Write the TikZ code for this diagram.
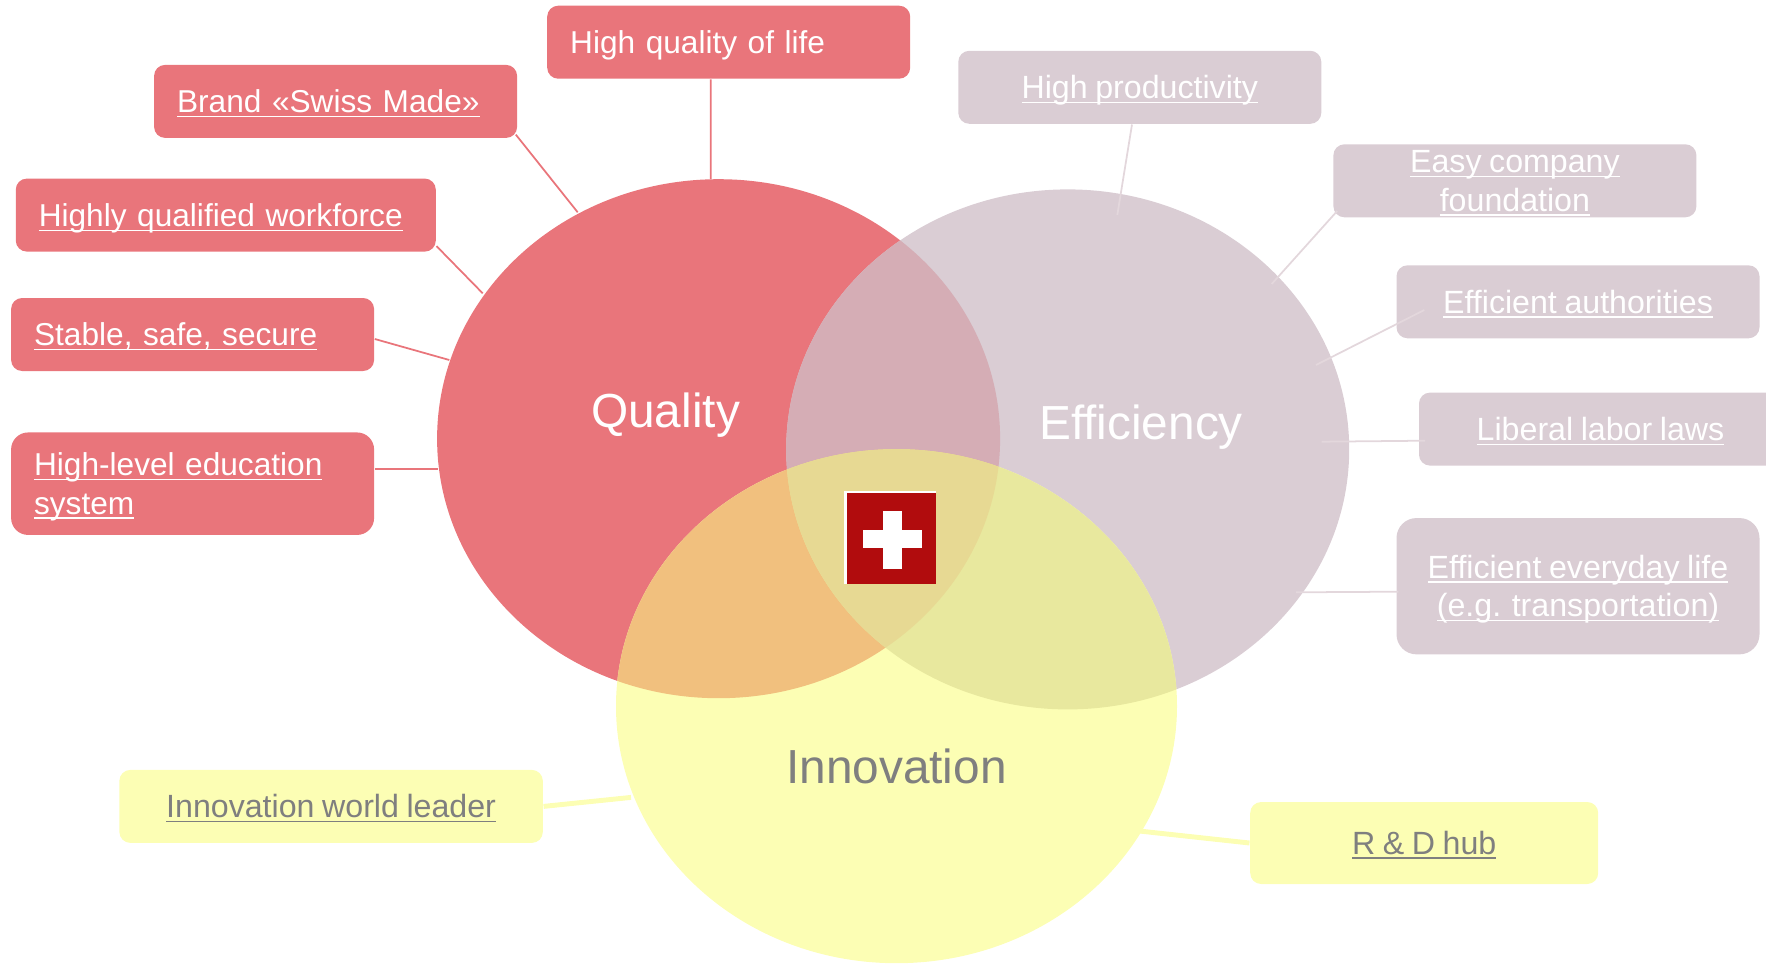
\documentclass[tikz,border=0pt]{standalone}
\usepackage{fontspec}
\setmainfont[WordSpace=0.85]{Liberation Sans}
\usepackage{tikz}
\usetikzlibrary{shapes.geometric}
\definecolor{qualcol}{HTML}{E9757B}
\definecolor{efficol}{HTML}{DACDD4}
\definecolor{innocol}{HTML}{FCFEB4}
\definecolor{qecol}{HTML}{D5ADB5}
\definecolor{qicol}{HTML}{F1C07E}
\definecolor{eicol}{HTML}{E8E89E}
\definecolor{qeicol}{HTML}{E7D993}
\definecolor{flagcol}{HTML}{B10C0D}
\definecolor{greytext}{HTML}{7F7F7F}
\definecolor{elinecol}{HTML}{E3D7DC}
\newcommand{\lnk}[1]{\setbox0\hbox{#1}\smash{\rlap{\rule[-1.3pt]{\wd0}{0.4pt}}\box0}}
\newcommand{\tagstrut}{\rule[-1.5pt]{0pt}{9.4pt}}
\tikzset{
  bigset/.style={ellipse,inner sep=0pt,minimum width=#1},
  biglabel/.style={font=\fontsize{13.6}{16}\selectfont,inner sep=0pt},
  tagbox/.style={rectangle,rounded corners=1.1mm,inner ysep=0pt,inner xsep=0pt,minimum height=.73cm,
    font=\fontsize{9.15}{10.9}\selectfont,text=white},
  leftbox/.style={tagbox,align=left,text width=#1,inner xsep=.23cm,font=\fontsize{9}{10.9}\selectfont},
  midbox/.style={tagbox,align=center,minimum width=3.63cm},
  qbox/.style={fill=qualcol},
  ebox/.style={fill=efficol},
  ibox/.style={fill=innocol,text=greytext},
  qline/.style={draw=qualcol,line width=.5pt},
  eline/.style={draw=elinecol,line width=.5pt},
  iline/.style={draw=innocol,line width=1.4pt},
  flagpart/.style={rectangle,inner sep=0pt}
}
\begin{document}
\begin{tikzpicture}
      \useasboundingbox (0,0) rectangle (17.66,9.63);
      \node[bigset=5.63cm,minimum height=5.19cm,fill=qualcol] (quality) at (7.186,5.243) {};
      \node[bigset=5.63cm,minimum height=5.20cm,fill=efficol] (efficiency) at (10.677,5.136) {};
      \node[bigset=5.61cm,minimum height=5.14cm,fill=innocol] (innovation) at (8.965,2.568) {};
      \begin{scope}
        \clip (quality.center) ellipse (2.815 and 2.595);
        \fill[qecol] (efficiency.center) ellipse (2.815 and 2.6);
        \fill[qicol] (innovation.center) ellipse (2.805 and 2.57);
      \end{scope}
      \begin{scope}
        \clip (efficiency.center) ellipse (2.815 and 2.6);
        \fill[eicol] (innovation.center) ellipse (2.805 and 2.57);
        \clip (quality.center) ellipse (2.815 and 2.595);
        \fill[qeicol] (innovation.center) ellipse (2.805 and 2.57);
      \end{scope}
      \node[biglabel,text=white] (qlabel) at (6.656,5.474) {Quality};
      \node[biglabel,text=white] (elabel) at (11.41,5.361) {Efficiency};
      \node[biglabel,text=greytext] (ilabel) at (8.965,1.97) {Innovation};

      \node[flagpart,fill=white,minimum width=.92cm,minimum height=.93cm] (flag) at (8.90,4.255) {};
      \node[flagpart,fill=flagcol,minimum width=.894cm,minimum height=.905cm] (flagred) at (8.913,4.243) {};
      \node[flagpart,fill=white,minimum width=.59cm,minimum height=.183cm] (hbar) at (8.928,4.238) {};
      \node[flagpart,fill=white,minimum width=.19cm,minimum height=.583cm] (vbar) at (8.928,4.232) {};

      \node[leftbox=3.17cm,qbox] (brand) at (3.356,8.616) {\tagstrut\lnk{Brand «Swiss Made»}};
      \node[leftbox=3.17cm,qbox] (life) at (7.287,9.208) {\tagstrut\smash{High quality of life}};
      \node[leftbox=3.74cm,qbox] (workforce) at (2.258,7.479) {\tagstrut\lnk{Highly qualified workforce}};
      \node[leftbox=3.17cm,qbox] (secure) at (1.926,6.285) {\tagstrut\lnk{Stable, safe, secure}};
      \node[leftbox=3.17cm,qbox,minimum height=1.025cm,rounded corners=1.7mm] (education) at (1.926,4.793) {\tagstrut\lnk{High-level education}\\\tagstrut\lnk{system}};

      \node[midbox,ebox] (productivity) at (11.398,8.757) {\tagstrut\lnk{High productivity}};
      \node[midbox,ebox] (company) at (15.149,7.822) {\tagstrut\lnk{Easy company}\\\tagstrut\lnk{foundation}};
      \node[midbox,ebox] (authorities) at (15.78,6.612) {\tagstrut\lnk{Efficient authorities}};
      \node[midbox,ebox] (labor) at (16.005,5.339) {\tagstrut\lnk{Liberal labor laws}};
      \node[midbox,ebox,minimum height=1.363cm,rounded corners=2mm] (everyday) at (15.78,3.768) {\tagstrut\lnk{Efficient everyday life}\\\tagstrut\lnk{(e.g. transportation)}};

      \node[tagbox,ibox,align=center,minimum width=4.235cm] (leader) at (3.311,1.566) {\tagstrut\lnk{Innovation world leader}};
      \node[tagbox,ibox,align=center,minimum width=3.48cm,minimum height=.82cm] (hub) at (14.242,1.2) {\tagstrut\lnk{R \& D hub}};

      \coordinate (qbrand) at (5.777,7.507);
      \coordinate (qlife) at (7.107,7.84);
      \coordinate (qwork) at (4.827,6.697);
      \coordinate (qsafe) at (4.493,6.03);
      \coordinate (qedu) at (4.38,4.943);
      \coordinate (eprod) at (11.173,7.48);
      \coordinate (efound) at (12.717,6.79);
      \coordinate (eauth) at (13.16,5.98);
      \coordinate (elabor) at (13.217,5.213);
      \coordinate (elife) at (12.96,3.707);
      \coordinate (iworld) at (6.31,1.656);
      \coordinate (ihub) at (11.3,1.33);

      \draw[qline] ([xshift=-.02cm,yshift=.04cm]brand.south east) -- (qbrand);
      \draw[qline] ([xshift=-.18cm]life.south) -- (qlife);
      \draw[qline] ([yshift=-.31cm]workforce.east) -- (qwork);
      \draw[qline] ([yshift=-.045cm]secure.east) -- (qsafe);
      \draw[qline] ([yshift=.15cm]education.east) -- (qedu);
      \draw[eline] ([xshift=-.078cm]productivity.south) -- (eprod);
      \draw[eline] ([xshift=.045cm,yshift=-.302cm]company.west) -- (efound);
      \draw[eline] ([xshift=.285cm,yshift=-.082cm]authorities.west) -- (eauth);
      \draw[eline] ([xshift=.067cm,yshift=-.116cm]labor.west) -- (elabor);
      \draw[eline] ([xshift=.025cm,yshift=-.055cm]everyday.west) -- (elife);
      \draw[iline] (leader.east) -- (iworld);
      \draw[iline] (hub.west) -- (ihub);
    \end{tikzpicture}
\end{document}
